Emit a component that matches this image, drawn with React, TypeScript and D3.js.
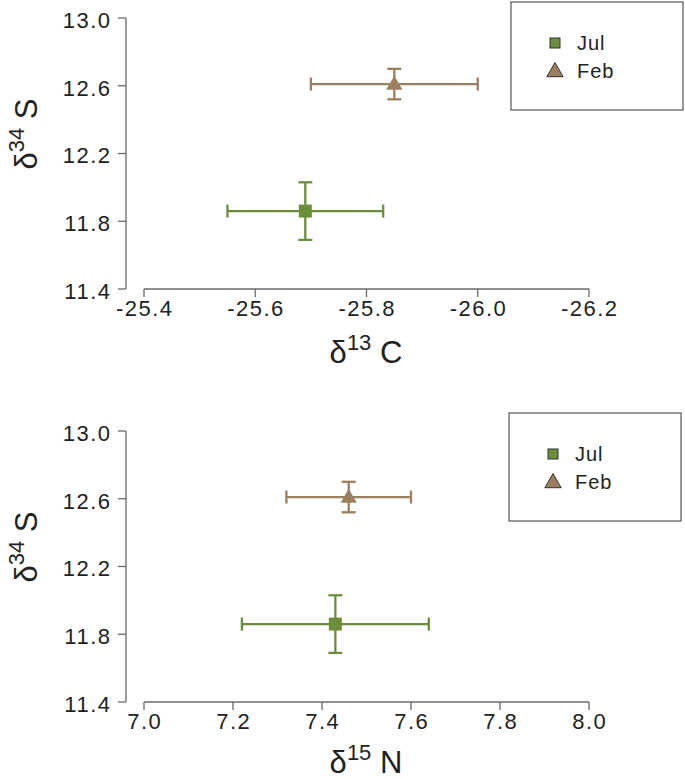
import React from "react";
import * as d3 from "d3";

const seasons = ["Jul", "Feb"];
const colors = ["#6b8e3a", "#9c7f5f"];
const s34Mean = [11.86, 12.61];
const s34Err = [0.17, 0.09];
const c13Mean = [-25.69, -25.85];
const c13Err = [0.14, 0.15];
const n15Mean = [7.43, 7.46];
const n15Err = [0.21, 0.14];
const yTicks = [11.4, 11.8, 12.2, 12.6, 13.0];
const cTicks = [-25.4, -25.6, -25.8, -26.0, -26.2];
const nTicks = [7.0, 7.2, 7.4, 7.6, 7.8, 8.0];

const FONT = "'Liberation Sans', Arial, sans-serif";
const AXIS = "#6a6a6a";

function Panel({ top, xDomain, xTicks, xMean, xErr, xLabel, xSup, legendPos, titleOff }: any) {
  const x = d3.scaleLinear().domain(xDomain).range([144, 589]);
  const y = d3.scaleLinear().domain([11.4, 13.0]).range([top + 271, top]);
  const y0 = y(11.4);
  const tri = d3.symbol().type(d3.symbolTriangle).size(115)()!;
  return (
    <g fontFamily={FONT}>
      {/* y axis */}
      <line x1={126} x2={126} y1={y(13)} y2={y0} stroke={AXIS} strokeWidth={1.3} />
      {yTicks.map((t) => (
        <g key={t}>
          <line x1={118} x2={126} y1={y(t)} y2={y(t)} stroke={AXIS} strokeWidth={1.3} />
          <text x={111.5} y={y(t) + 2} dy="0.36em" textAnchor="end" fontSize={22} letterSpacing={1.5} fill="#222">
            {t.toFixed(1)}
          </text>
        </g>
      ))}
      {/* x axis */}
      <line x1={x(xTicks[0])} x2={x(xTicks[xTicks.length - 1])} y1={y0} y2={y0} stroke={AXIS} strokeWidth={1.3} />
      {xTicks.map((t: number) => (
        <g key={t}>
          <line x1={x(t)} x2={x(t)} y1={y0} y2={y0 + 8} stroke={AXIS} strokeWidth={1.3} />
          <text x={x(t) + 0.75} y={y0 + 27} textAnchor="middle" fontSize={22} letterSpacing={1.5} fill="#222">
            {t.toFixed(1)}
          </text>
        </g>
      ))}
      {/* titles */}
      <text x={366} y={y0 + titleOff} textAnchor="middle" fontSize={31} fill="#222">
        δ<tspan fontSize={22} dy={-13}>{xSup}</tspan>
        <tspan dy={13}> {xLabel}</tspan>
      </text>
      <text
        transform={`translate(37,${top + 116}) rotate(-90)`}
        textAnchor="middle"
        fontSize={31}
        fill="#222"
      >
        δ<tspan fontSize={22} dy={-13}>34</tspan>
        <tspan dy={13}> S</tspan>
      </text>
      {/* data */}
      {seasons.map((s, i) => {
        const cx = x(xMean[i]);
        const cy = y(s34Mean[i]);
        const xl = x(xMean[i] - xErr[i]);
        const xr = x(xMean[i] + xErr[i]);
        const yt = y(s34Mean[i] + s34Err[i]);
        const yb = y(s34Mean[i] - s34Err[i]);
        const c = colors[i];
        return (
          <g key={s} stroke={c} strokeWidth={2.3}>
            <line x1={xl} x2={xr} y1={cy} y2={cy} />
            <line x1={xl} x2={xl} y1={cy - 6.5} y2={cy + 6.5} />
            <line x1={xr} x2={xr} y1={cy - 6.5} y2={cy + 6.5} />
            <line x1={cx} x2={cx} y1={yt} y2={yb} />
            <line x1={cx - 7} x2={cx + 7} y1={yt} y2={yt} />
            <line x1={cx - 7} x2={cx + 7} y1={yb} y2={yb} />
            {i === 0 ? (
              <rect x={cx - 6.5} y={cy - 6.5} width={13} height={13} fill={c} stroke="none" />
            ) : (
              <path d={tri} transform={`translate(${cx},${cy + 1})`} fill={c} stroke="none" />
            )}
          </g>
        );
      })}
      {/* legend */}
      <rect x={legendPos.x} y={legendPos.y} width={172} height={108} fill="white" stroke="#555" strokeWidth={1.2} />
      {seasons.map((s, i) => {
        const ly = legendPos.y + 41 + i * 28;
        const lx = legendPos.x + 44;
        return (
          <g key={s}>
            {i === 0 ? (
              <rect x={lx - 5} y={ly - 5} width={10} height={10} fill={colors[0]} stroke="#333" strokeWidth={1} />
            ) : (
              <path d={tri} transform={`translate(${lx},${ly + 1})`} fill={colors[1]} stroke="#333" strokeWidth={1} />
            )}
            <text x={lx + 22} y={ly} dy="0.36em" fontSize={20} letterSpacing={1} fill="#222">
              {s}
            </text>
          </g>
        );
      })}
    </g>
  );
}

export default function App() {
  return (
    <svg
      width={685}
      height={779}
      style={{ position: "absolute", left: 0, top: 0, background: "white" }}
    >
      <Panel
        top={18}
        xDomain={[-25.4, -26.2]}
        xTicks={cTicks}
        xMean={c13Mean}
        xErr={c13Err.map((e) => -e)}
        xLabel="C"
        xSup="13"
        legendPos={{ x: 511, y: 2 }}
        titleOff={74}
      />
      <Panel
        top={431}
        xDomain={[7.0, 8.0]}
        xTicks={nTicks}
        xMean={n15Mean}
        xErr={n15Err}
        xLabel="N"
        xSup="15"
        legendPos={{ x: 509, y: 413 }}
        titleOff={71}
      />
    </svg>
  );
}
